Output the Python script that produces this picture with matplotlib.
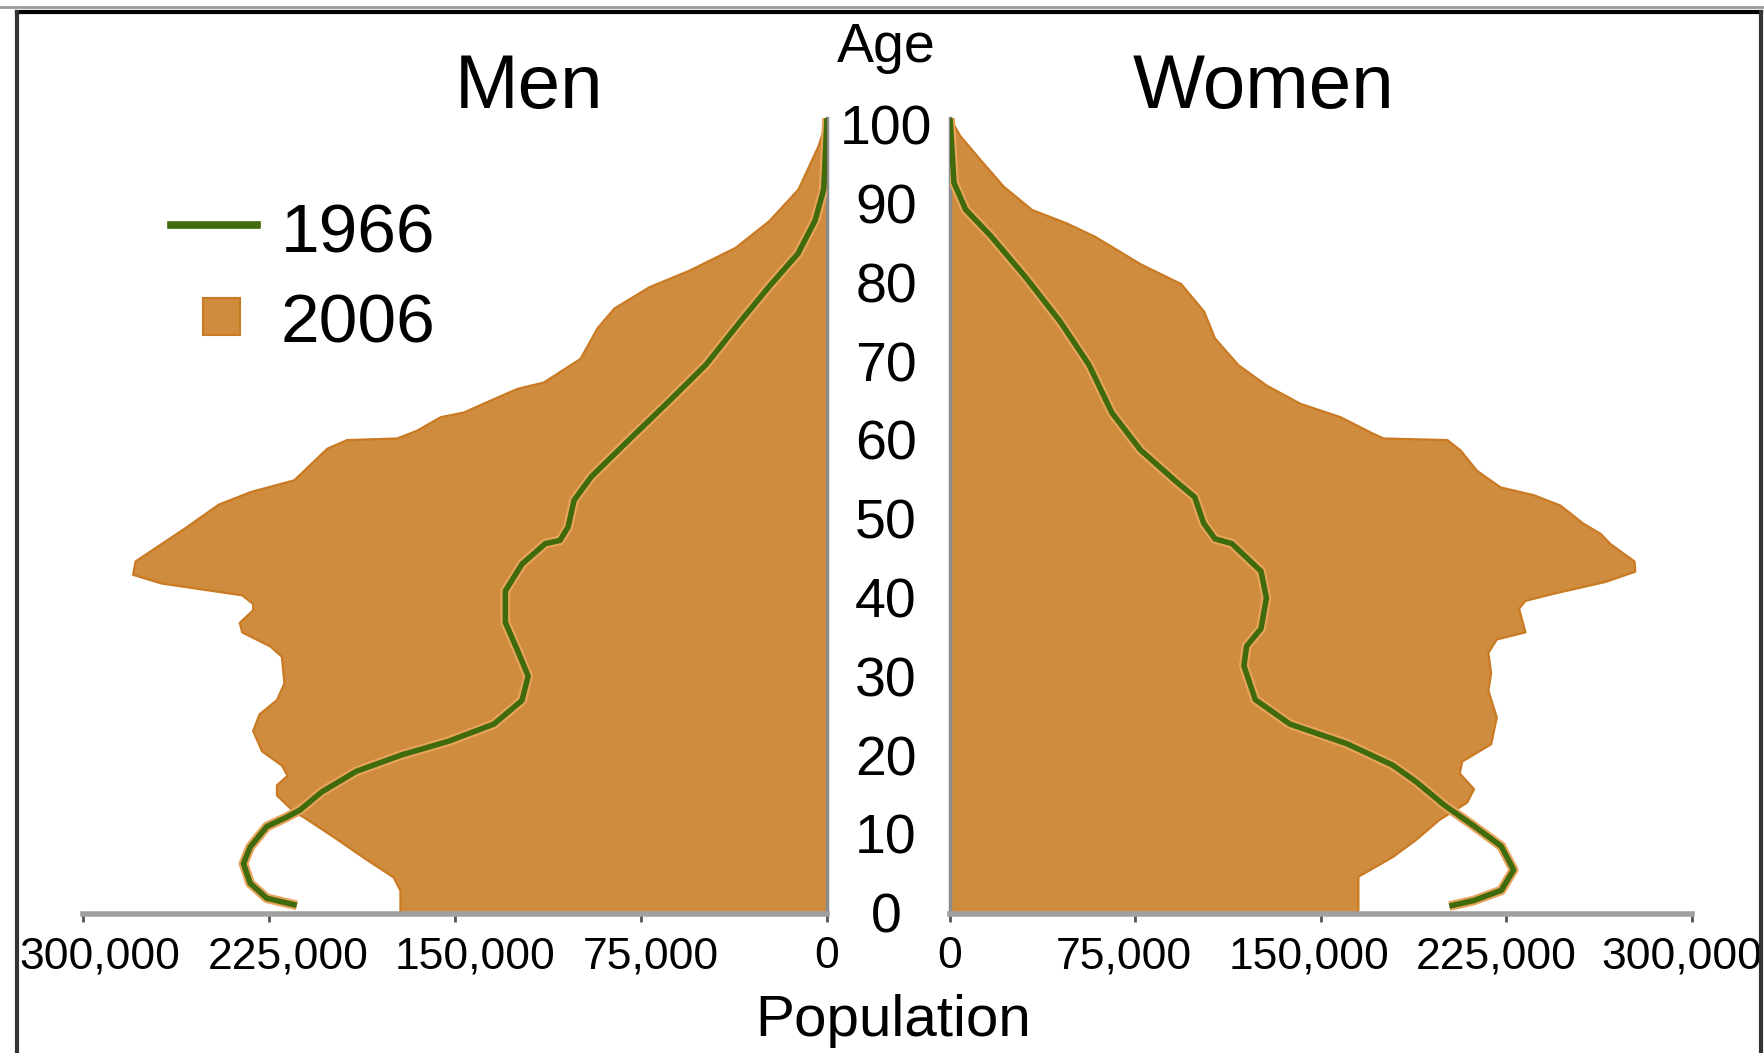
import matplotlib
matplotlib.use("Agg")
import matplotlib.pyplot as plt
import matplotlib.patheffects as pe
from matplotlib import font_manager
from matplotlib.lines import Line2D
from matplotlib.patches import Rectangle
from matplotlib.ticker import FuncFormatter
import matplotlib.transforms as mtrans

# pick a font with Arial-like metrics
available = {f.name for f in font_manager.fontManager.ttflist}
for fam in ["Liberation Sans", "Open Sans", "DejaVu Sans"]:
    if fam in available:
        plt.rcParams["font.family"] = fam
        break

# ---- data (thousands of people) ----
men_2006_age = [0, 3, 4.7, 6.9, 9.8, 12.3, 13, 15.1, 16.4, 17.6, 18.9, 20.7, 23.3, 25.4,
                27.2, 29.3, 32.7, 34, 35.8, 37, 38.6, 39.4, 40.5, 42, 43.1, 44.8, 49, 52,
                53.6, 55.1, 59.1, 60.2, 60.4, 61.4, 63.1, 63.7, 65.2, 66.7, 67.5, 70.5,
                74.4, 76.9, 79.6, 81.7, 84.6, 88, 92, 97.5, 101]
men_2006_val = [172.2, 172.2, 174.9, 185.6, 199, 211, 215, 222, 222, 217.7, 220, 228,
                231.6, 229, 222, 219, 220, 224.6, 236, 237, 231.6, 231.6, 236, 268.5, 280,
                279, 259, 245.5, 232.6, 215, 201.7, 193.7, 173.5, 165.4, 156, 146.6,
                135.9, 125, 114.4, 99.6, 92.7, 85.9, 71.8, 55.6, 37, 23.4, 11.7, 3.6, 0]

women_2006_age = [0, 4.8, 5.5, 7.3, 9.5, 12, 14.2, 15.9, 17.9, 19.4, 21.6, 25, 28.4,
                  30.6, 33.2, 34.9, 35.8, 38.8, 39.8, 40.7, 42.2, 43.5, 44.8, 47, 48.3,
                  49.6, 51.9, 53.2, 54.2, 56.3, 58.9, 60.2, 60.4, 61, 63.1, 64.8, 67.1,
                  69.7, 73.1, 76.5, 80, 82.5, 86, 87.7, 89.4, 92.4, 95.8, 98.8, 101]
women_2006_val = [165, 165, 169, 179, 188.5, 197.8, 209, 211.8, 206, 207, 218.7, 221,
                  217.6, 218.7, 217.6, 221, 232.6, 230, 232.6, 244, 265, 277, 276.7,
                  267, 263, 256, 246.7, 236, 222.5, 213, 206.3, 201, 175.3, 171, 157.8,
                  141.6, 128, 116.5, 107, 102.6, 93.3, 77, 58.5, 47, 33, 21.4, 12, 3.9, 0]

men_1966_age = [1.1, 2.0, 3.9, 6.4, 8.5, 11.1, 12.3, 13.2, 15.5, 18.1, 20.2, 21.9, 24.1,
                27.1, 30.2, 33.6, 37, 41, 44.4, 47, 47.4, 49.1, 52.5, 55.5, 59.8, 65.4,
                69.7, 75.2, 79.6, 83.8, 88, 92, 101]
men_1966_val = [213.8, 225.9, 232.6, 235.3, 232.6, 225.9, 217.8, 212.5, 203.7, 189.8,
                171.4, 152.8, 134.3, 123, 120.5, 125, 129.7, 129.7, 123, 113.6, 107.7,
                104.4, 102, 95, 81, 62.6, 48.8, 34.9, 23.4, 11.7, 4.8, 1.3, 0]

women_1966_age = [1, 1.7, 3, 5.6, 8.6, 11.2, 13.8, 16.8, 18.9, 21.6, 24.1, 27.2, 31.5,
                  34, 36.2, 40.1, 43.5, 47, 47.6, 49.6, 52.9, 55, 58.9, 63.6, 69.7,
                  75.2, 80.8, 86, 89.4, 92.8, 101]
women_1966_val = [202, 211.8, 223, 228, 223, 211.8, 200, 188.5, 179, 160.6, 137.5, 123.5,
                  118.9, 120, 125.8, 128, 125.8, 114, 107.2, 102.6, 99, 91, 77, 65.5,
                  56.2, 44.5, 30.6, 16.6, 6.3, 1.6, 0]

x_ticks = [0, 75000, 150000, 225000, 300000]
age_ticks = list(range(0, 101, 10))

fill_c = "#CF8C3E"
edge_c = "#C97A22"
line_c = "#3F6B0C"
grey = "#8C8C8C"

fig = plt.figure(figsize=(17.65, 10.53), dpi=100)
axL = fig.add_axes([0.04703, 0.1320, 0.42153, 0.7559])
axR = fig.add_axes([0.53824, 0.1320, 0.42017, 0.7559])

halo = [pe.Stroke(linewidth=7, foreground="#E9A45C"), pe.Normal()]

for ax, a06, v06, a66, v66 in [
    (axL, men_2006_age, men_2006_val, men_1966_age, men_1966_val),
    (axR, women_2006_age, women_2006_val, women_1966_age, women_1966_val),
]:
    ax.fill_betweenx(a06, 0, [v * 1000 for v in v06], facecolor=fill_c,
                     edgecolor=edge_c, linewidth=1.6, zorder=2)
    ax.plot([v * 1000 for v in v66], a66, color=line_c, lw=4,
            solid_capstyle="butt", solid_joinstyle="round", path_effects=halo, zorder=3)
    ax.set_ylim(0, 101)
    ax.set_xticks(x_ticks)
    ax.xaxis.set_major_formatter(FuncFormatter(lambda v, p: f"{int(v):,}"))
    ax.tick_params(axis="x", labelsize=32, length=6, width=2, color="#555555", pad=10)
    ax.set_yticks([])
    ax.spines["top"].set_visible(False)
    ax.spines["bottom"].set_color("#A0A0A0")
    ax.spines["bottom"].set_linewidth(4)
    ax.patch.set_alpha(0)

axL.set_xlim(300000, 0)
axL.spines["left"].set_visible(False)
axL.spines["right"].set_color(grey)
axL.spines["right"].set_linewidth(2.5)

axR.set_xlim(0, 300000)
axR.spines["right"].set_visible(False)
axR.spines["left"].set_color(grey)
axR.spines["left"].set_linewidth(2.5)

# tick labels sit a little toward the middle in the original
fig.canvas.draw()
for ax, shifts in [(axL, [0, 10, 20, 19, 17]), (axR, [0, -12, -12, -10, -10])]:
    for lab, dx in zip(ax.get_xticklabels(), shifts):
        lab.set_transform(lab.get_transform() +
                          mtrans.ScaledTranslation(dx / 100, 0, fig.dpi_scale_trans))

# age labels in the middle
tr = mtrans.blended_transform_factory(fig.transFigure, axL.transData)
for a in age_ticks:
    fig.text(0.502, a - 0.6, str(a), transform=tr, ha="center", va="center", fontsize=40)

fig.text(0.502, 0.954, "Age", ha="center", va="center", fontsize=40)
fig.text(0.2997, 0.9155, "Men", ha="center", va="center", fontsize=55)
fig.text(0.7156, 0.9155, "Women", ha="center", va="center", fontsize=55)
fig.text(0.506, 0.030, "Population", ha="center", va="center", fontsize=42)

# legend
fig.add_artist(Line2D([0.0969, 0.1456], [0.7863, 0.7863], transform=fig.transFigure,
                      color=line_c, lw=5.5))
fig.add_artist(Rectangle((0.1150, 0.6818), 37 / 1765, 37 / 1053, transform=fig.transFigure,
                         facecolor=fill_c, edgecolor=edge_c, lw=1.5))
fig.text(0.1592, 0.7777, "1966", ha="left", va="center", fontsize=50)
fig.text(0.1592, 0.6921, "2006", ha="left", va="center", fontsize=50)

# frame
fig.add_artist(Line2D([0, 1], [0.9934, 0.9934], transform=fig.transFigure, color="#9A9A9A", lw=2))
fig.add_artist(Line2D([0.0096, 0.9975], [0.9886, 0.9886], transform=fig.transFigure, color="black", lw=3))
fig.add_artist(Line2D([0.0096, 0.0096], [0, 0.9886], transform=fig.transFigure, color="#333333", lw=3))
fig.add_artist(Line2D([0.9975, 0.9975], [0, 0.9886], transform=fig.transFigure, color="#333333", lw=3))

fig.savefig("out.png", dpi=100)
